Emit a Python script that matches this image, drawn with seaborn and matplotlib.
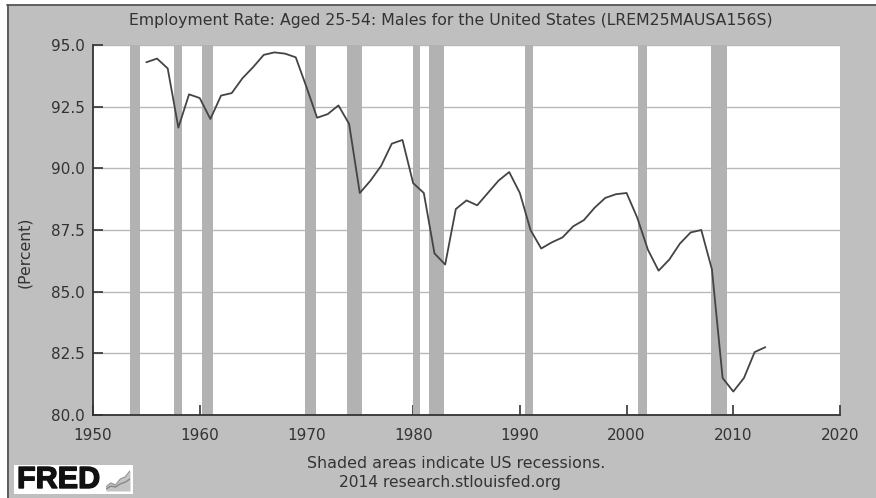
import matplotlib
matplotlib.use('Agg')
import matplotlib.pyplot as plt
import matplotlib.patheffects as pe
import pandas as pd
import seaborn as sns
from matplotlib.patches import Rectangle

years = list(range(1955, 2014))
rate = [94.3, 94.45, 94.05, 91.65, 93.0, 92.85, 92.0, 92.95, 93.05, 93.65,
        94.1, 94.6, 94.7, 94.65, 94.5, 93.3, 92.05, 92.2, 92.55, 91.8,
        89.0, 89.5, 90.1, 91.0, 91.15, 89.4, 89.0, 86.55, 86.1, 88.35,
        88.7, 88.5, 89.0, 89.5, 89.85, 89.0, 87.5, 86.75, 87.0, 87.2,
        87.65, 87.9, 88.4, 88.8, 88.95, 89.0, 88.0, 86.7, 85.85, 86.3,
        86.95, 87.4, 87.5, 85.9, 81.5, 80.95, 81.5, 82.55, 82.75]

rec_start = [1953.5, 1957.6, 1960.2, 1969.9, 1973.8, 1980.0, 1981.5, 1990.5, 2001.1, 2007.9]
rec_end = [1954.4, 1958.3, 1961.2, 1970.9, 1975.2, 1980.6, 1982.9, 1991.2, 2001.9, 2009.4]

x_ticks = [1950, 1960, 1970, 1980, 1990, 2000, 2010, 2020]
y_ticks = [80.0, 82.5, 85.0, 87.5, 90.0, 92.5, 95.0]

icon_x = [0, 1, 2, 3, 4, 5]
icon_a = [1, 2, 1.5, 3, 3.5, 5]
icon_b = [0.5, 1.2, 1, 1.8, 2.2, 3]

W, H = 876, 498
GRAY = '#bfbfbf'
DARK = '#333333'

df = pd.DataFrame({'year': years, 'rate': rate})

sns.set_style('white')
plt.rcParams['font.family'] = ['DejaVu Sans']

fig = plt.figure(figsize=(W / 100, H / 100), dpi=100, facecolor='white')

# gray panel with dark edge on top and left only
fig.add_artist(Rectangle((7 / W, 0), 1 - 7 / W, 1 - 5 / H, transform=fig.transFigure,
                         facecolor=GRAY, edgecolor='none', zorder=-5))
fig.add_artist(plt.Line2D([7.5 / W, 7.5 / W], [0, 1 - 5 / H], color='#555555', lw=1.3, zorder=-4))
fig.add_artist(plt.Line2D([7 / W, 1], [1 - 5.5 / H, 1 - 5.5 / H], color='#555555', lw=1.3, zorder=-4))

ax = fig.add_axes([93 / W, 1 - 415 / H, (840 - 93) / W, (415 - 45) / H], facecolor='white')

ax.yaxis.grid(True, color='#b8b8b8', lw=1.0)
ax.set_axisbelow(True)
for s, e in zip(rec_start, rec_end):
    ax.axvspan(s, e, color='#b2b2b2', lw=0, zorder=1.5)

sns.lineplot(data=df, x='year', y='rate', color='#444444', lw=1.3, ax=ax, zorder=3)

ax.set_xlim(1950, 2020)
ax.set_ylim(80, 95)
ax.set_xticks(x_ticks)
ax.set_yticks(y_ticks)
ax.set_yticklabels([f'{v:.1f}' for v in y_ticks])
ax.tick_params(axis='both', direction='in', length=7, width=1.2, color='#333333',
               labelcolor=DARK, labelsize=11, left=True, bottom=True)
ax.tick_params(axis='y', pad=6)
ax.tick_params(axis='x', pad=9)
ax.set_xlabel('')
ax.set_ylabel('')
for side in ['top', 'right']:
    ax.spines[side].set_visible(False)
for side in ['left', 'bottom']:
    ax.spines[side].set_color('#333333')
    ax.spines[side].set_linewidth(1.3)

fig.text(451 / W, 1 - 21 / H, 'Employment Rate: Aged 25-54: Males for the United States (LREM25MAUSA156S)',
         ha='center', va='center', fontsize=11.3, color=DARK)
fig.text(25 / W, 1 - 252 / H, '(Percent)', rotation=90, ha='center', va='center', fontsize=11.3, color=DARK)
fig.text(456 / W, 1 - 463 / H, 'Shaded areas indicate US recessions.', ha='center', va='center',
         fontsize=11.4, color=DARK)
fig.text(450 / W, 1 - 482 / H, '2014 research.stlouisfed.org', ha='center', va='center',
         fontsize=11.2, color=DARK)

# logo
fig.add_artist(Rectangle((14 / W, 1 - 494 / H), 119 / W, 29 / H, transform=fig.transFigure,
                         facecolor='white', edgecolor='none', zorder=1))
logo = fig.text(17 / W, 1 - 480 / H, 'FRED', ha='left', va='center', fontsize=22, fontweight='bold',
                color='#111111', family=['Liberation Sans', 'DejaVu Sans'], zorder=2)
logo.set_path_effects([pe.withStroke(linewidth=1.0, foreground='#111111')])
icon = fig.add_axes([106 / W, 1 - 491 / H, 24 / W, 22 / H], facecolor='none', zorder=5)
icon.fill_between(icon_x, icon_a, color='#c4c4c4', lw=0)
icon.plot(icon_x, icon_a, color='#999999', lw=1)
icon.plot(icon_x, icon_b, color='#888888', lw=1)
icon.set_xlim(0, 5)
icon.set_ylim(0, 5.5)
icon.axis('off')

fig.savefig('out.png', dpi=100, facecolor='white')
